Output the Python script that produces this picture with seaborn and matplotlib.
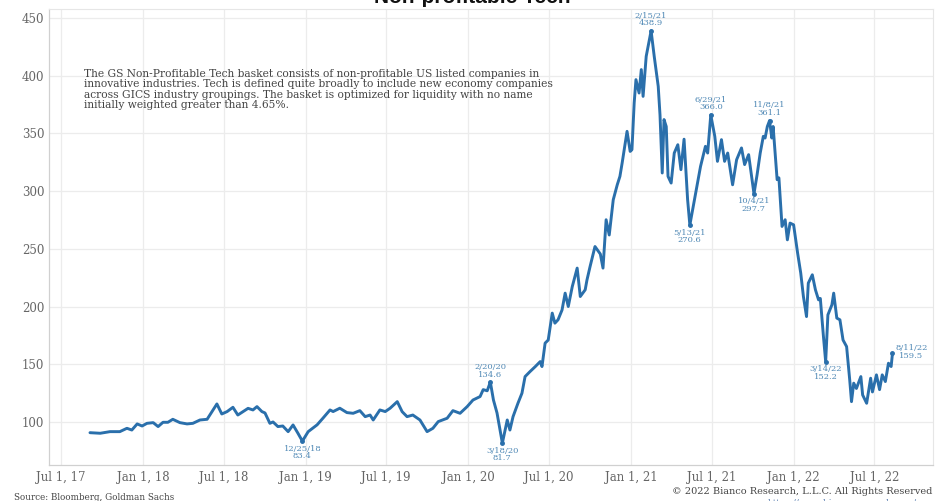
import matplotlib
matplotlib.use("Agg")
import matplotlib.pyplot as plt
import numpy as np
import pandas as pd
import seaborn as sns

# ---------------- data ----------------
dates = [
    "2017-09-04", "2017-09-27", "2017-10-19", "2017-11-10", "2017-11-26", "2017-12-07",
    "2017-12-19", "2017-12-30", "2018-01-10", "2018-01-24", "2018-02-04", "2018-02-15",
    "2018-02-26", "2018-03-09", "2018-03-25", "2018-04-10", "2018-04-23", "2018-05-09",
    "2018-05-25", "2018-06-05", "2018-06-16", "2018-06-27", "2018-07-09", "2018-07-22",
    "2018-08-02", "2018-08-14", "2018-08-25", "2018-09-05", "2018-09-14", "2018-09-25",
    "2018-10-02", "2018-10-13", "2018-10-20", "2018-10-31", "2018-11-11", "2018-11-23",
    "2018-12-04", "2018-12-15", "2018-12-25", "2019-01-07", "2019-01-27", "2019-02-09",
    "2019-02-25", "2019-03-04", "2019-03-19", "2019-04-04", "2019-04-18", "2019-05-03",
    "2019-05-15", "2019-05-26", "2019-06-02", "2019-06-17", "2019-06-29", "2019-07-10",
    "2019-07-26", "2019-08-06", "2019-08-17", "2019-08-30", "2019-09-15", "2019-10-01",
    "2019-10-14", "2019-10-26", "2019-11-15", "2019-11-28", "2019-12-14", "2019-12-30",
    "2020-01-12", "2020-01-28", "2020-02-04", "2020-02-13", "2020-02-20", "2020-02-27",
    "2020-03-06", "2020-03-18", "2020-03-29", "2020-04-04", "2020-04-11", "2020-04-22",
    "2020-05-01", "2020-05-08", "2020-05-19", "2020-05-31", "2020-06-11", "2020-06-15",
    "2020-06-22", "2020-06-29", "2020-07-08", "2020-07-14", "2020-07-21", "2020-07-30",
    "2020-08-06", "2020-08-13", "2020-08-22", "2020-09-02", "2020-09-09", "2020-09-20",
    "2020-09-24", "2020-10-01", "2020-10-12", "2020-10-24", "2020-10-30", "2020-11-06",
    "2020-11-13", "2020-11-22", "2020-12-01", "2020-12-07", "2020-12-12", "2020-12-23",
    "2020-12-30", "2021-01-03", "2021-01-08", "2021-01-12", "2021-01-19", "2021-01-24",
    "2021-01-28", "2021-02-04", "2021-02-15", "2021-02-22", "2021-03-03", "2021-03-07",
    "2021-03-12", "2021-03-16", "2021-03-21", "2021-03-25", "2021-04-01", "2021-04-08",
    "2021-04-16", "2021-04-23", "2021-04-30", "2021-05-08", "2021-05-13", "2021-05-26",
    "2021-06-06", "2021-06-17", "2021-06-22", "2021-06-29", "2021-07-08", "2021-07-14",
    "2021-07-23", "2021-07-30", "2021-08-06", "2021-08-17", "2021-08-26", "2021-09-06",
    "2021-09-13", "2021-09-22", "2021-10-04", "2021-10-11", "2021-10-18", "2021-10-25",
    "2021-10-29", "2021-11-03", "2021-11-08", "2021-11-13", "2021-11-16", "2021-11-25",
    "2021-11-29", "2021-12-06", "2021-12-13", "2021-12-18", "2021-12-24", "2022-01-01",
    "2022-01-10", "2022-01-17", "2022-01-23", "2022-01-30", "2022-02-03", "2022-02-12",
    "2022-02-19", "2022-02-26", "2022-03-02", "2022-03-09", "2022-03-14", "2022-03-19",
    "2022-03-28", "2022-04-01", "2022-04-08", "2022-04-15", "2022-04-22", "2022-04-30",
    "2022-05-07", "2022-05-11", "2022-05-16", "2022-05-22", "2022-06-01", "2022-06-05",
    "2022-06-14", "2022-06-23", "2022-06-27", "2022-07-06", "2022-07-13", "2022-07-19",
    "2022-07-26", "2022-08-02", "2022-08-08", "2022-08-11",
]
values = [
    90.7, 90.2, 91.6, 91.6, 94.5, 93.0,
    98.3, 96.5, 98.8, 99.4, 96.0, 99.7,
    99.7, 102.3, 99.4, 98.3, 98.8, 101.7,
    102.3, 108.9, 115.6, 106.9, 109.0, 112.7,
    106.0, 109.0, 111.8, 110.4, 113.3, 109.0,
    107.8, 98.8, 100.0, 96.0, 96.5, 91.6,
    97.4, 90.2, 83.4, 91.6, 97.5, 103.2,
    110.4, 109.0, 111.9, 108.1, 107.5, 109.8,
    104.6, 106.0, 101.7, 110.4, 109.0, 111.9,
    117.6, 108.9, 104.6, 106.0, 101.7, 91.6,
    94.5, 100.3, 103.2, 109.8, 107.5, 113.3,
    119.0, 122.0, 128.0, 127.0, 134.6, 119.0,
    107.8, 81.7, 101.7, 93.0, 104.6, 116.2,
    124.9, 139.3, 143.6, 148.0, 152.3, 148.0,
    168.3, 171.0, 194.3, 185.6, 188.5, 197.0,
    211.6, 200.0, 217.3, 233.3, 208.7, 214.5,
    223.0, 234.7, 252.0, 245.5, 233.3, 275.2,
    262.0, 292.5, 305.5, 312.8, 324.4, 351.8,
    334.4, 335.9, 376.4, 396.6, 385.0, 405.3,
    382.1, 416.8, 438.9, 416.8, 390.8, 366.0,
    315.7, 362.0, 356.0, 312.8, 307.0, 333.0,
    340.2, 318.6, 345.0, 292.5, 270.6, 298.3,
    321.4, 338.8, 333.0, 366.0, 347.5, 325.8,
    344.6, 325.8, 333.0, 305.5, 327.2, 337.4,
    323.0, 331.6, 297.7, 314.2, 333.0, 347.5,
    346.0, 356.0, 361.1, 346.0, 356.0, 309.9,
    311.5, 269.4, 275.2, 257.8, 272.3, 270.8,
    246.3, 229.0, 208.7, 191.3, 220.3, 227.5,
    214.5, 205.8, 207.0, 174.0, 152.2, 192.8,
    201.5, 211.6, 190.0, 188.5, 171.0, 165.3,
    136.4, 117.6, 133.6, 129.0, 139.3, 123.4,
    116.2, 137.9, 126.0, 140.8, 128.0, 140.8,
    135.0, 150.9, 148.0, 159.5,
]

ann_dates = ["2018-12-25", "2020-02-20", "2020-03-18", "2021-02-15", "2021-05-13",
             "2021-06-29", "2021-10-04", "2021-11-08", "2022-03-14", "2022-08-11"]
ann_values = [83.4, 134.6, 81.7, 438.9, 270.6, 366.0, 297.7, 361.1, 152.2, 159.5]
ann_labels = ["12/25/18\n83.4", "2/20/20\n134.6", "3/18/20\n81.7", "2/15/21\n438.9",
              "5/13/21\n270.6", "6/29/21\n366.0", "10/4/21\n297.7", "11/8/21\n361.1",
              "3/14/22\n152.2", "8/11/22\n159.5"]
ann_place = ["below", "above", "below", "above", "below",
             "above", "below", "above", "below", "right"]

xtick_dates = ["2017-07-01", "2018-01-01", "2018-07-01", "2019-01-01", "2019-07-01",
               "2020-01-01", "2020-07-01", "2021-01-01", "2021-07-01", "2022-01-01",
               "2022-07-01"]
xtick_labels = ["Jul 1, 17", "Jan 1, 18", "Jul 1, 18", "Jan 1, 19", "Jul 1, 19",
                "Jan 1, 20", "Jul 1, 20", "Jan 1, 21", "Jul 1, 21", "Jan 1, 22",
                "Jul 1, 22"]
ytick_values = [100, 150, 200, 250, 300, 350, 400, 450]

title = "Non-profitable Tech"
note = ("The GS Non-Profitable Tech basket consists of non-profitable US listed companies in\n"
        "innovative industries. Tech is defined quite broadly to include new economy companies\n"
        "across GICS industry groupings. The basket is optimized for liquidity with no name\n"
        "initially weighted greater than 4.65%.")
source = "Source: Bloomberg, Goldman Sachs"
copyright_text = "\u00a9 2022 Bianco Research, L.L.C. All Rights Reserved"
url_text = "https://www.biancoresearch.com/"

# ---------------- style ----------------
LINE = "#2a6fab"
ANN = "#4f88b5"
TICK = "#666666"
GRID = "#ececec"

sns.set_theme(style="white")
plt.rcParams["font.family"] = ["DejaVu Serif"]

fig = plt.figure(figsize=(9.35, 5.01), dpi=100)
ax = fig.add_axes([49 / 935, 36 / 501, 884 / 935, 456 / 501])

df = pd.DataFrame({"date": pd.to_datetime(dates), "value": values})
sns.lineplot(data=df, x="date", y="value", ax=ax, color=LINE, linewidth=2.1)

ax.set_xlim(pd.Timestamp("2017-06-04"), pd.Timestamp("2022-11-10"))
ax.set_ylim(62.7, 457.8)

ax.set_xticks(pd.to_datetime(xtick_dates))
ax.set_xticklabels(xtick_labels)
ax.set_yticks(ytick_values)
ax.set_yticklabels([str(v) for v in ytick_values])
ax.tick_params(axis="both", labelsize=8.5, colors=TICK, length=0)
ax.tick_params(axis="x", pad=4)
ax.tick_params(axis="y", pad=3.5)

ax.grid(True, color=GRID, linewidth=0.9)
ax.set_axisbelow(True)
for side in ["top", "right"]:
    ax.spines[side].set_color("#e6e6e6")
    ax.spines[side].set_linewidth(0.8)
for side in ["left", "bottom"]:
    ax.spines[side].set_color("#d0d0d0")
    ax.spines[side].set_linewidth(0.9)

ax.set_xlabel("")
ax.set_ylabel("")

# annotations
for d, v, lab, pl in zip(ann_dates, ann_values, ann_labels, ann_place):
    xd = pd.Timestamp(d)
    ax.plot([xd], [v], marker="o", markersize=2.5, color=LINE)
    if pl == "above":
        off, ha, va = (0, 2.5), "center", "bottom"
    elif pl == "below":
        off, ha, va = (0, -2.5), "center", "top"
    else:
        off, ha, va = (2, 1), "left", "center"
    ax.annotate(lab, (xd, v), xytext=off, textcoords="offset points",
                ha=ha, va=va, fontsize=6, color=ANN, linespacing=0.95,
                multialignment="center")

# paragraph note
fig.text(84 / 935, 1 - 69 / 501, note, ha="left", va="top", fontsize=7.7,
         color="#444444", linespacing=1.05)

# title (cut off at top edge, as in the reference)
fig.text(472 / 935, 1 - 3 / 501, title, ha="center", va="baseline",
         fontsize=15, fontweight="bold", family="Liberation Sans", color="#111111")

# footer
fig.text(14 / 935, 1 - 497 / 501, source, ha="left", va="center", fontsize=6.3,
         color="#444444")
fig.text(932 / 935, 1 - 492 / 501, copyright_text, ha="right", va="center",
         fontsize=7, color="#444444")
fig.text(917 / 935, 1 - 503 / 501, url_text, ha="right", va="center",
         fontsize=6.3, color="#5a7fb0")

fig.savefig("out.png", dpi=100)
